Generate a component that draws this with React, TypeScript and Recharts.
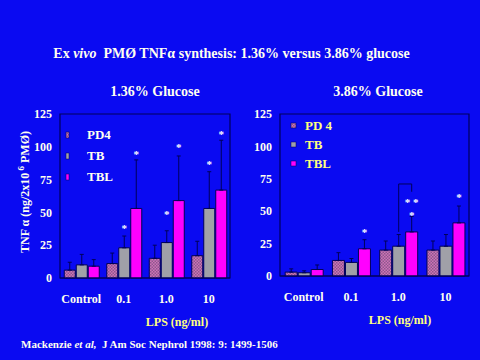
import React from "react"
import { BarChart, Bar, XAxis, YAxis, ErrorBar, LabelList, Legend, ReferenceArea } from "recharts"

const categories = ["Control", "0.1", "1.0", "10"]
const yTicks = [0, 25, 50, 75, 100, 125]

// 1.36% glucose
const pd4Low = [6, 11, 15, 17]
const pd4LowErr = [6, 8, 10, 11]
const tbLow = [10, 23, 27, 53]
const tbLowErr = [8, 9, 9, 28]
const tblLow = [9, 53, 59, 67]
const tblLowErr = [5, 37, 34, 38]
const tbLowStar = [null, 39, 50, 88]
const tblLowStar = [null, 96, 101, 111]

// 3.86% glucose
const pd4High = [3, 12, 20, 20]
const pd4HighErr = [2.5, 6, 7, 7]
const tbHigh = [2.5, 10.5, 23, 23]
const tbHighErr = [1.5, 3, 9, 9]
const tblHigh = [5, 21, 34, 41]
const tblHighErr = [3.5, 7, 12, 13]
const tblHighStar = [null, 35, 48, 62]
const tblHighDoubleStar = [null, null, 58.5, null]
const bracketTop = [null, null, 71, null]
const bracketFrom = [null, null, 34, null]
const bracketTo = [null, null, 65, null]

const BG = "#0a0af2"
const NAVY = "#00005a"
const GRAY = "#a0a0a8"
const MAGENTA = "#ff00ff"
const CREAM = "#fffff0"
const YELLOW = "#ffff80"
const SERIF = "'Liberation Serif', 'Times New Roman', serif"
const BAR_GAP = 1

const lowRows = categories.map((cat, i) => ({
  cat,
  pd4: pd4Low[i],
  pd4Err: [0, pd4LowErr[i]],
  tb: tbLow[i],
  tbErr: [0, tbLowErr[i]],
  tbl: tblLow[i],
  tblErr: [0, tblLowErr[i]],
  tbStar: tbLowStar[i],
  tblStar: tblLowStar[i],
}))

const highRows = categories.map((cat, i) => ({
  cat,
  pd4: pd4High[i],
  pd4Err: [0, pd4HighErr[i]],
  tb: tbHigh[i],
  tbErr: [0, tbHighErr[i]],
  tbl: tblHigh[i],
  tblErr: [0, tblHighErr[i]],
  tblStar: tblHighStar[i],
  tblStar2: tblHighDoubleStar[i],
  bracket: bracketTop[i],
}))

function starContent(bars: number[], glyph: string) {
  return (props: any) => {
    const { value, index } = props
    if (value == null || index == null) return null
    const vb = props.viewBox || props
    const ppu = vb.height / bars[index]
    const sy = vb.y + vb.height - ppu * value
    return (
      <text
        key={`s-${index}`}
        x={vb.x + vb.width / 2}
        y={sy}
        dy="0.5em"
        textAnchor="middle"
        fill="#ffffff"
        fontSize={11}
        fontWeight="bold"
        fontFamily={SERIF}
      >
        {glyph}
      </text>
    )
  }
}

function bracketContent(props: any) {
  const { index } = props
  if (index == null || bracketTop[index] == null) return null
  const vb = props.viewBox || props
  const ppu = vb.height / tbHigh[index]
  const base = vb.y + vb.height
  const x1 = vb.x + vb.width / 2
  const x2 = x1 + vb.width + BAR_GAP
  const d = `M${x1},${base - ppu * bracketFrom[index]!} V${base - ppu * bracketTop[index]!} H${x2} V${base - ppu * bracketTo[index]!}`
  return <path key={`b-${index}`} d={d} stroke={NAVY} strokeWidth={1} fill="none" />
}

function makeLegend(color: string, mw: number, mh: number, rowH: number, gap: number, pattern: string, names: string[]) {
  const fills = [`url(#${pattern})`, GRAY, MAGENTA]
  return () => (
    <div style={{ fontFamily: SERIF, fontWeight: "bold", fontSize: 13, color }}>
      {names.map((n, i) => (
        <div key={n} style={{ display: "flex", alignItems: "center", height: rowH }}>
          <svg width={mw + 2} height={mh + 2} style={{ marginRight: gap }}>
            <rect x={1} y={1} width={mw} height={mh} fill={fills[i]} stroke={NAVY} strokeWidth={0.5} />
          </svg>
          <span>{n}</span>
        </div>
      ))}
    </div>
  )
}

const tickStyle = { fill: CREAM, fontSize: 12, fontWeight: "bold", fontFamily: SERIF }

function Hatch({ id }: { id: string }) {
  return (
    <defs>
      <pattern id={id} width={3} height={3} patternUnits="userSpaceOnUse">
        <rect width={3} height={3} fill="#d070b8" />
        <rect width={1.5} height={1.5} fill="#8c5a8c" />
        <rect x={1.5} y={1.5} width={1.5} height={1.5} fill="#8c5a8c" />
      </pattern>
    </defs>
  )
}

function YLabel(props: any) {
  const vb = props.viewBox
  const cx = 25
  const cy = vb.y + vb.height / 2 - 4
  return (
    <text
      x={cx}
      y={cy}
      transform={`rotate(-90 ${cx} ${cy})`}
      textAnchor="middle"
      dominantBaseline="central"
      fill={CREAM}
      fontSize={12}
      fontWeight="bold"
      fontFamily={SERIF}
    >
      TNF α (ng/2x10
      <tspan dy={-4} fontSize={9}> 6</tspan>
      <tspan dy={4}> PMØ)</tspan>
    </text>
  )
}

function LowChart() {
  return (
    <BarChart
      width={240}
      height={220}
      data={lowRows}
      margin={{ top: 14, right: 10, left: 0, bottom: 0 }}
      barGap={BAR_GAP}
      barCategoryGap="10%"
    >
      <Hatch id="hatchLow" />
      <XAxis dataKey="cat" height={42} axisLine={{ stroke: NAVY }} tickLine={false} tickSize={0} tickMargin={16} tick={tickStyle} interval={0} />
      <YAxis
        width={60}
        domain={[0, 125]}
        ticks={yTicks}
        axisLine={false}
        tickLine={false}
        tickSize={0}
        tickMargin={8}
        tick={tickStyle}
        label={<YLabel />}
      />
      <ReferenceArea y1={0} y2={125} fill="none" stroke={NAVY} strokeWidth={1.2} ifOverflow="visible" />
      <Legend
        layout="vertical"
        align="center"
        verticalAlign="middle"
        wrapperStyle={{ top: 24, left: 65, width: "auto" }}
        content={makeLegend(CREAM, 3, 6, 21, 17, "hatchLow", ["PD4", "TB", "TBL"])}
      />
      <Bar dataKey="pd4" name="PD4" fill="url(#hatchLow)" stroke={NAVY} strokeWidth={1} isAnimationActive={false}>
        <ErrorBar dataKey="pd4Err" width={2} stroke={NAVY} strokeWidth={1} direction="y" />
      </Bar>
      <Bar dataKey="tb" name="TB" fill={GRAY} stroke={NAVY} strokeWidth={1} isAnimationActive={false}>
        <ErrorBar dataKey="tbErr" width={2} stroke={NAVY} strokeWidth={1} direction="y" />
        <LabelList dataKey="tbStar" content={starContent(tbLow, "*")} />
      </Bar>
      <Bar dataKey="tbl" name="TBL" fill={MAGENTA} stroke={NAVY} strokeWidth={1} isAnimationActive={false}>
        <ErrorBar dataKey="tblErr" width={2} stroke={NAVY} strokeWidth={1} direction="y" />
        <LabelList dataKey="tblStar" content={starContent(tblLow, "*")} />
      </Bar>
    </BarChart>
  )
}

function HighChart() {
  return (
    <BarChart
      width={240}
      height={220}
      data={highRows}
      margin={{ top: 14, right: 11, left: 0, bottom: 0 }}
      barGap={BAR_GAP}
      barCategoryGap="11%"
    >
      <Hatch id="hatchHigh" />
      <XAxis dataKey="cat" height={44} axisLine={{ stroke: NAVY }} tickLine={false} tickSize={0} tickMargin={16} tick={tickStyle} interval={0} />
      <YAxis width={40} domain={[0, 125]} ticks={yTicks} axisLine={false} tickLine={false} tickSize={0} tickMargin={8} tick={tickStyle} />
      <ReferenceArea y1={0} y2={125} fill="none" stroke={NAVY} strokeWidth={1.2} ifOverflow="visible" />
      <Legend
        layout="vertical"
        align="center"
        verticalAlign="middle"
        wrapperStyle={{ top: 16, left: 50, width: "auto" }}
        content={makeLegend(YELLOW, 5, 5, 19, 8, "hatchHigh", ["PD 4", "TB", "TBL"])}
      />
      <Bar dataKey="pd4" name="PD 4" fill="url(#hatchHigh)" stroke={NAVY} strokeWidth={1} isAnimationActive={false}>
        <ErrorBar dataKey="pd4Err" width={2} stroke={NAVY} strokeWidth={1} direction="y" />
      </Bar>
      <Bar dataKey="tb" name="TB" fill={GRAY} stroke={NAVY} strokeWidth={1} isAnimationActive={false}>
        <ErrorBar dataKey="tbErr" width={2} stroke={NAVY} strokeWidth={1} direction="y" />
        <LabelList dataKey="bracket" content={bracketContent} />
      </Bar>
      <Bar dataKey="tbl" name="TBL" fill={MAGENTA} stroke={NAVY} strokeWidth={1} isAnimationActive={false}>
        <ErrorBar dataKey="tblErr" width={2} stroke={NAVY} strokeWidth={1} direction="y" />
        <LabelList dataKey="tblStar" content={starContent(tblHigh, "*")} />
        <LabelList dataKey="tblStar2" content={starContent(tblHigh, "*  *")} />
      </Bar>
    </BarChart>
  )
}

const textBase: React.CSSProperties = {
  position: "absolute",
  fontFamily: SERIF,
  fontWeight: "bold",
  whiteSpace: "nowrap",
  lineHeight: 1,
}

export default function App() {
  return (
    <div style={{ position: "absolute", left: 0, top: 0, width: 480, height: 360, background: BG, overflow: "hidden" }}>
      <div style={{ ...textBase, left: 0, width: 463, top: 47, textAlign: "center", fontSize: 14, color: CREAM }}>
        Ex <i>vivo</i>&nbsp; PMØ TNFα synthesis: 1.36% versus 3.86% glucose
      </div>
      <div style={{ ...textBase, left: 55, width: 200, top: 85, textAlign: "center", fontSize: 14, color: CREAM }}>
        1.36% Glucose
      </div>
      <div style={{ ...textBase, left: 278, width: 200, top: 85, textAlign: "center", fontSize: 14, color: CREAM }}>
        3.86% Glucose
      </div>
      <div style={{ position: "absolute", left: 0, top: 100 }}>
        <LowChart />
      </div>
      <div style={{ position: "absolute", left: 240, top: 100 }}>
        <HighChart />
      </div>
      <div style={{ ...textBase, left: 127, width: 100, top: 316, textAlign: "center", fontSize: 12, color: YELLOW }}>
        LPS (ng/ml)
      </div>
      <div style={{ ...textBase, left: 350, width: 100, top: 314, textAlign: "center", fontSize: 12, color: YELLOW }}>
        LPS (ng/ml)
      </div>
      <div style={{ ...textBase, left: 21, top: 339, fontSize: 11, color: CREAM }}>
        Mackenzie <i>et al,</i>&nbsp; J Am Soc Nephrol 1998: 9: 1499-1506
      </div>
    </div>
  )
}
